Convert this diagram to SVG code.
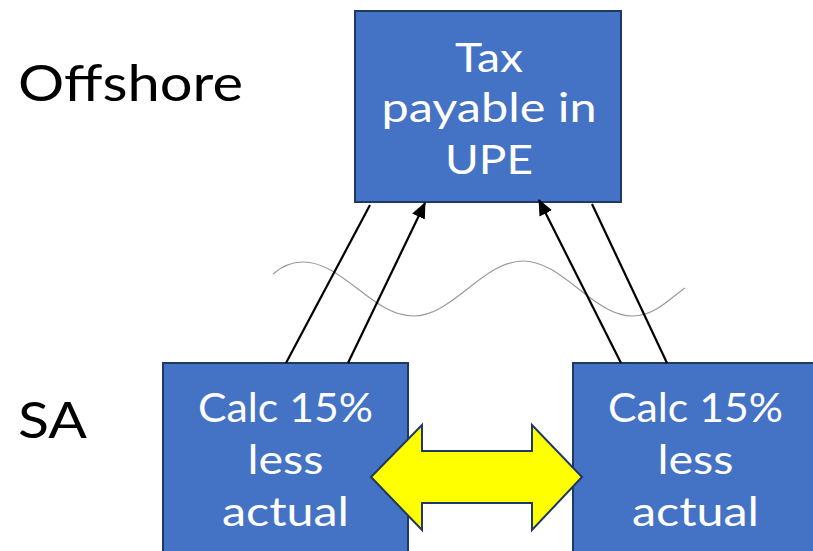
<svg xmlns="http://www.w3.org/2000/svg" width="813" height="551" viewBox="0 0 813 551">
  <defs>
    <marker id="head" markerUnits="userSpaceOnUse" markerWidth="16" markerHeight="14" refX="15" refY="7" orient="auto">
      <path d="M0,0 L16,7 L0,14 z" fill="#000"/>
    </marker>
    <style>
      .box { fill: #4472C4; stroke: #1F3864; stroke-width: 2; }
      .lbl { font-family: Lato, "Open Sans", sans-serif; fill: #fff; font-size: 41px; text-anchor: middle; }
      .side { font-family: Lato, "Open Sans", sans-serif; fill: #000; font-size: 51px; }
      .conn { stroke: #000; stroke-width: 2.2; fill: none; }
      .wave { stroke: #999; stroke-width: 1.2; fill: none; }
      .swap { fill: #FFFF00; stroke: #1F3864; stroke-width: 2; stroke-linejoin: miter; }
    </style>
  </defs>

  <rect width="813" height="551" fill="#fff"/>

  <!-- side labels -->
  <text class="side" x="18" y="101" textLength="225" lengthAdjust="spacingAndGlyphs">Offshore</text>
  <text class="side" x="18" y="438" textLength="69" lengthAdjust="spacingAndGlyphs">SA</text>

  <!-- border line between jurisdictions -->
  <path class="wave" d="M273,274 C282,266 292,262 303,262 C343,262 373,316 413,316 C453,316 483,261 523,261 C563,261 593,316 633,316 C655,316 670,298 685,288"/>

  <g id="upe">
    <rect class="box" x="355" y="11" width="266" height="191"/>
    <text class="lbl" x="489" y="72" textLength="68" lengthAdjust="spacingAndGlyphs">Tax</text>
    <text class="lbl" x="489" y="122" textLength="215" lengthAdjust="spacingAndGlyphs">payable in</text>
    <text class="lbl" x="489" y="174" textLength="88" lengthAdjust="spacingAndGlyphs">UPE</text>
  </g>

  <g id="sa-left">
    <rect class="box" x="163" y="363" width="245" height="200"/>
    <text class="lbl" x="285.5" y="422" textLength="175" lengthAdjust="spacingAndGlyphs">Calc 15%</text>
    <text class="lbl" x="285.5" y="474" textLength="76" lengthAdjust="spacingAndGlyphs">less</text>
    <text class="lbl" x="285.5" y="526" textLength="127" lengthAdjust="spacingAndGlyphs">actual</text>
  </g>

  <g id="sa-right">
    <rect class="box" x="573" y="363" width="245" height="200"/>
    <text class="lbl" x="695.5" y="422" textLength="175" lengthAdjust="spacingAndGlyphs">Calc 15%</text>
    <text class="lbl" x="695.5" y="474" textLength="76" lengthAdjust="spacingAndGlyphs">less</text>
    <text class="lbl" x="695.5" y="526" textLength="127" lengthAdjust="spacingAndGlyphs">actual</text>
  </g>

  <g id="connectors">
    <line class="conn" x1="370" y1="205" x2="286" y2="363"/>
    <line class="conn" x1="348" y1="363" x2="425" y2="203" marker-end="url(#head)"/>
    <line class="conn" x1="621" y1="363" x2="539" y2="200" marker-end="url(#head)"/>
    <line class="conn" x1="592" y1="204" x2="667" y2="363"/>
  </g>

  <g id="exchange">
    <polygon class="swap" points="371,477 422,425 422,451 532,451 532,425 582,477 532,530 532,503 422,503 422,530"/>
  </g>
</svg>
